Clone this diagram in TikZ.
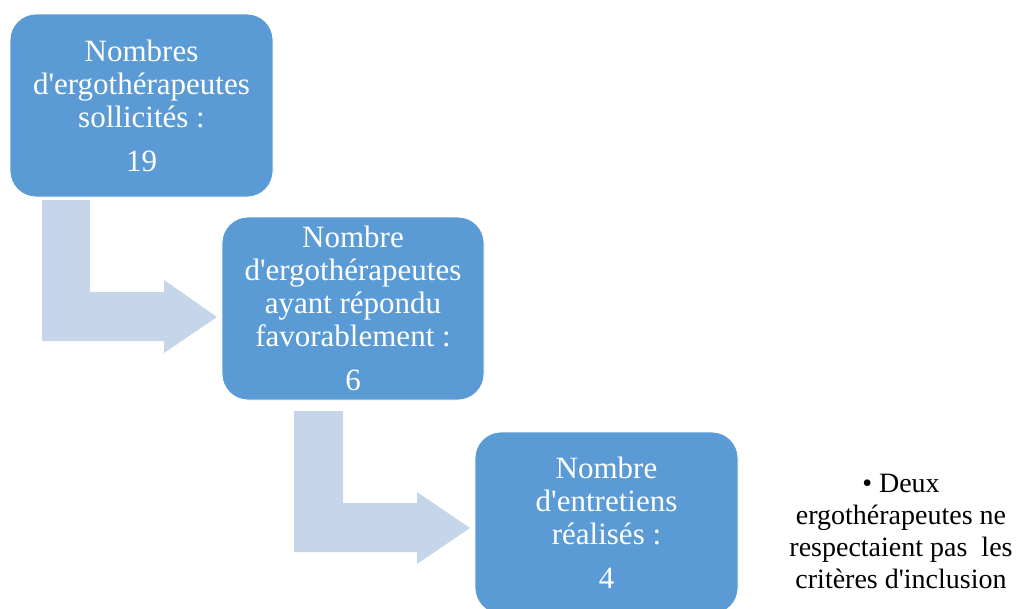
\documentclass[tikz,border=0pt]{standalone}
\usepackage{fontspec}
\setmainfont{Liberation Serif}[Ligatures=TeXOff]
\definecolor{boxblue}{HTML}{5B9BD5}
\definecolor{arrowblue}{HTML}{C5D5EA}
\begin{document}
\begin{tikzpicture}[x=1pt,y=-1pt,
  stepbox/.style={fill=boxblue, draw=white, line width=0.8pt, rounded corners=26pt,
    text=white, align=center, inner sep=0pt,
    font=\fontsize{31}{33}\selectfont},
  bentarrow/.style={fill=arrowblue, draw=none},
  note/.style={align=center, text=black, font=\fontsize{28}{32}\selectfont}]
\useasboundingbox (0,0) rectangle (1024,608);
\clip (0,0) rectangle (1024,608);
% bent arrows
\fill[bentarrow] (42,200) -- (90,200) -- (90,292) -- (164,292) -- (164,280) -- (217,317)
  -- (164,353) -- (164,341) -- (42,341) -- cycle;
\fill[bentarrow] (294,411) -- (343,411) -- (343,503) -- (417,503) -- (417,492) -- (470,528)
  -- (417,564) -- (417,552) -- (294,552) -- cycle;
% boxes
\node[stepbox, minimum width=263pt, minimum height=183pt] (b1) at (141.5,105.5)
  {Nombres\\d'ergothérapeutes\\sollicités :\\[11pt]19};
\node[stepbox, minimum width=262pt, minimum height=183pt] (b2) at (353,308.5)
  {Nombre\\d'ergothérapeutes\\ayant répondu\\favorablement :\\[11pt]6};
\node[stepbox, minimum width=263pt, minimum height=182pt] (b3) at (606.5,523)
  {Nombre\\d'entretiens\\réalisés :\\[11pt]4};
% note
\node[note] (n) at (901,531.5)
  {• Deux\\ergothérapeutes ne\\respectaient pas~ les\\critères d'inclusion};
\end{tikzpicture}
\end{document}
